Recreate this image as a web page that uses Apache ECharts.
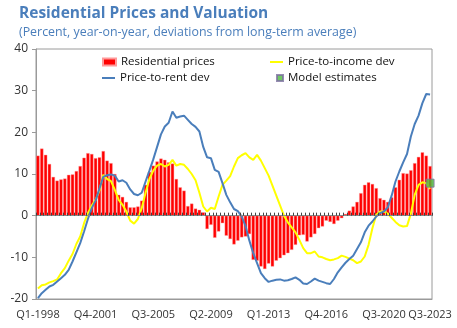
<!DOCTYPE html>
<html>
<head>
<meta charset="utf-8">
<script src="https://cdn.jsdelivr.net/npm/echarts@6/dist/echarts.min.js"></script>
<style>
html,body{margin:0;padding:0;background:#fff;}
#chart{width:457px;height:328px;}
</style>
</head>
<body>
<div id="chart"></div>
<script>
// Quarterly categories Q1-1998 .. Q3-2023
const categories = [];
for (let y = 1998; y <= 2023; y++) {
  for (let q = 1; q <= 4; q++) {
    if (y === 2023 && q > 3) break;
    categories.push('Q' + q + '-' + y);
  }
}
const tickLabels = ['Q1-1998','Q4-2001','Q3-2005','Q2-2009','Q1-2013','Q4-2016','Q3-2020','Q3-2023'];

const residentialPrices = [
  14.4, 16.1, 14.6, 12.4, 9.3, 8.4, 8.7, 8.9, 9.8, 9.9,
  10.7, 11.9, 13.9, 15.0, 14.8, 13.8, 14.0, 15.5, 13.2, 12.6,
  10.0, 5.0, 4.5, 3.3, 2.0, 2.0, 2.2, 3.6, 7.4, 10.5,
  12.0, 13.0, 13.7, 13.4, 12.8, 12.5, 8.8, 6.8, 6.0, 2.3,
  2.9, 1.7, 1.4, 0.8, -3.2, -2.2, -5.3, -3.8, -1.8, -4.8,
  -5.6, -6.9, -6.0, -5.2, -5.0, -4.4, -10.6, -10.8, -12.2, -12.8,
  -11.5, -12.2, -10.8, -10.2, -9.5, -9.0, -8.2, -7.0, -4.7, -4.6,
  -6.2, -5.2, -4.4, -3.0, -2.6, -1.2, -1.5, -2.0, -1.2, -0.6,
  0.4, 1.2, 2.2, 3.3, 5.4, 7.4, 8.0, 7.6, 6.6, 4.2,
  3.8, 3.3, 4.4, 6.8, 8.6, 10.2, 10.1, 10.9, 12.6, 14.1,
  15.2, 14.4, 11.9
];

const priceToIncome = [
  -17.5, -16.7, -16.5, -16.0, -15.7, -15.3, -13.8, -12.6, -10.8, -9.2,
  -6.8, -5.0, -1.8, 0.6, 2.4, 3.8, 6.0, 9.8, 8.8, 8.3,
  6.2, 3.8, 2.6, 1.0, -1.2, -1.9, -0.8, 1.8, 5.5, 8.8,
  10.8, 12.0, 12.4, 11.8, 12.2, 13.4, 12.0, 12.4, 12.2, 11.2,
  10.0, 8.5, 5.5, 2.2, 1.0, 1.9, 1.6, 4.6, 7.4, 8.4,
  9.5, 11.8, 13.8, 14.5, 15.0, 14.0, 13.4, 14.6, 13.2, 11.4,
  9.6, 7.2, 4.8, 2.4, 0.0, -1.6, -2.8, -4.0, -5.8, -7.8,
  -9.0, -9.0, -8.6, -9.8, -10.0, -10.4, -10.7, -10.5, -10.2, -9.6,
  -9.9, -10.3, -10.7, -11.4, -11.0, -9.8, -7.0, -3.0, 0.2, 1.0,
  1.0, 0.5, -0.5, -1.5, -2.3, -2.6, -2.5, 0.5, 5.0, 7.4,
  8.0, 7.8, 6.4
];

const priceToRent = [
  -19.8, -18.6, -17.8, -17.0, -16.6, -15.8, -15.0, -14.2, -13.0, -11.0,
  -8.8, -6.6, -3.8, -0.8, 1.8, 3.6, 6.5, 9.3, 9.7, 9.9,
  9.6, 8.2, 8.5, 7.9, 6.3, 5.2, 4.9, 5.5, 8.2, 10.8,
  13.5, 16.5, 19.5, 21.4, 22.3, 25.0, 23.5, 23.8, 24.0, 23.0,
  22.0, 21.3, 20.2, 16.5, 14.0, 13.8, 11.0, 10.5, 7.8, 5.0,
  3.2, 1.6, 1.1, -0.2, -2.5, -6.0, -9.0, -11.4, -13.8, -15.0,
  -15.9, -15.6, -15.4, -15.3, -15.6, -15.5, -15.2, -14.8, -15.4, -16.3,
  -16.4, -15.8, -15.1, -15.6, -15.9, -16.2, -16.4, -15.2, -13.6, -12.4,
  -11.3, -10.4, -9.6, -8.0, -6.4, -4.0, -2.4, -1.4, -0.2, 0.6,
  1.0, 2.0, 4.8, 8.2, 10.6, 12.8, 14.8, 19.0, 22.0, 24.0,
  27.0, 29.2, 29.1
];

const modelEstimateQuarter = 'Q3-2023';
const modelEstimateValue = 7.8;

const yTicks = { min: -20, max: 40, interval: 10 };

const FONT = 'Open Sans';
const LEG = { fontFamily: FONT, fontSize: 11.5, color: '#111' };
const chart = echarts.init(document.getElementById('chart'));
chart.setOption({
  animation: false,
  backgroundColor: '#ffffff',
  textStyle: { fontFamily: FONT },
  title: [
    { text: 'Residential Prices and Valuation', left: 14, top: 1,
      textStyle: { fontFamily: FONT, fontSize: 15.5, fontWeight: 'bold', color: '#4a7ebb' } },
    { text: '(Percent, year-on-year, deviations from long-term average)', left: 14, top: 21,
      textStyle: { fontFamily: FONT, fontSize: 12.4, fontWeight: 'normal', color: '#4a7ebb' } }
  ],
  legend: [
    { data: ['Residential prices'], left: 97, top: 51, icon: 'rect', itemWidth: 13, itemHeight: 7, itemGap: 3, textStyle: LEG },
    { data: ['Price-to-income dev'], left: 265, top: 51, icon: 'rect', itemWidth: 13, itemHeight: 2, textStyle: LEG },
    { data: ['Price-to-rent dev'], left: 97, top: 67, icon: 'rect', itemWidth: 13, itemHeight: 2, textStyle: LEG },
    { data: ['Model estimates'], left: 271, top: 67, icon: 'rect', itemWidth: 6, itemHeight: 6, textStyle: LEG }
  ],
  grid: { left: 36, right: 25, top: 49, bottom: 29, show: true, borderColor: '#9a9a9a', borderWidth: 1 },
  xAxis: [
    {
      type: 'category', data: categories, position: 'bottom',
      axisLine: { onZero: false, show: true, lineStyle: { color: '#9a9a9a' } },
      axisTick: { show: false },
      axisLabel: {
        interval: (idx, val) => tickLabels.indexOf(val) >= 0,
        fontFamily: FONT, fontSize: 11, color: '#333', margin: 10
      },
      splitLine: { show: false }
    },
    {
      type: 'category', data: categories, position: 'bottom', z: 5,
      axisLine: { onZero: true, show: true, lineStyle: { color: '#8a8a8a', width: 1 } },
      axisTick: { show: true, inside: true, length: 3, interval: 0, lineStyle: { color: '#444' } },
      axisLabel: { show: false },
      splitLine: { show: false }
    }
  ],
  yAxis: {
    type: 'value', min: yTicks.min, max: yTicks.max, interval: yTicks.interval,
    axisLine: { show: true, lineStyle: { color: '#9a9a9a' } },
    axisTick: { show: true, length: 4, lineStyle: { color: '#9a9a9a' } },
    axisLabel: { fontFamily: FONT, fontSize: 12, color: '#333', margin: 8 },
    splitLine: { show: false }
  },
  series: [
    { name: 'Residential prices', type: 'bar', data: residentialPrices, xAxisIndex: 0,
      barCategoryGap: '15%',
      itemStyle: { color: '#ff0000', borderColor: '#ff9a9a', borderWidth: 0.4 } },
    { name: 'Price-to-income dev', type: 'line', data: priceToIncome, xAxisIndex: 0,
      symbol: 'none', lineStyle: { color: '#ffff00', width: 2 }, itemStyle: { color: '#ffff00' }, z: 3 },
    { name: 'Price-to-rent dev', type: 'line', data: priceToRent, xAxisIndex: 0,
      symbol: 'none', lineStyle: { color: '#4a7ebb', width: 2 }, itemStyle: { color: '#4a7ebb' }, z: 3 },
    { name: 'Model estimates', type: 'scatter', xAxisIndex: 0,
      data: [[modelEstimateQuarter, modelEstimateValue]],
      symbol: 'rect', symbolSize: 8, z: 6,
      itemStyle: { color: '#4cbb3c', borderColor: '#7d6fa0', borderWidth: 1 } }
  ]
});
</script>
</body>
</html>
